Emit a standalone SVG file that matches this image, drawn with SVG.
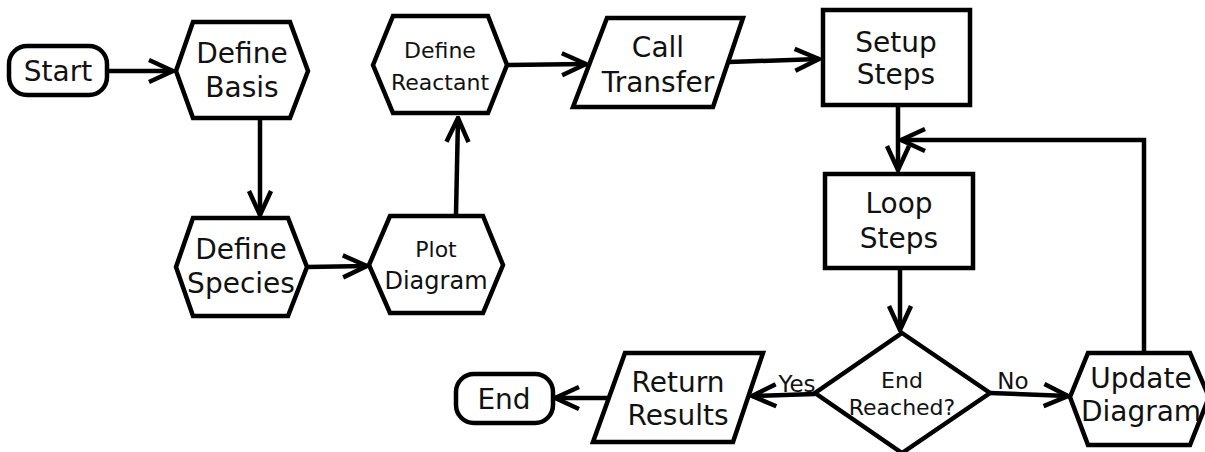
<svg xmlns="http://www.w3.org/2000/svg" width="1205" height="452" viewBox="0 0 1205 452">
<defs>
<marker id="ah" viewBox="-28 -14 30 28" markerWidth="30" markerHeight="28" refX="0" refY="0" orient="auto" markerUnits="userSpaceOnUse">
<path d="M-24,-11 L0,0 L-24,11" fill="none" stroke="#000" stroke-width="4.5"/>
</marker>
<style>
.n{fill:#fff;stroke:#000;stroke-width:4.5;stroke-linejoin:miter}
.c{fill:none;stroke:#000;stroke-width:4.5;marker-end:url(#ah)}
text{font-family:"DejaVu Sans","Liberation Sans",sans-serif;fill:#111;text-anchor:middle}
.b{font-size:28px}
.s{font-size:22px}
.m{font-size:24px}
.e{font-size:23px}
</style>
</defs>
<rect width="1205" height="452" fill="#fff"/>
<g id="connectors">
<line class="c" x1="108" y1="71" x2="173" y2="71"/>
<line class="c" x1="260" y1="119" x2="260" y2="215"/>
<line class="c" x1="307" y1="267" x2="367" y2="266"/>
<line class="c" x1="456" y1="214" x2="458" y2="118"/>
<line class="c" x1="507" y1="65" x2="586" y2="64"/>
<line class="c" x1="729" y1="62" x2="819" y2="59"/>
<line class="c" x1="898" y1="106" x2="898" y2="170"/>
<polyline class="c" points="1144,353 1144,140 901,140"/>
<line class="c" x1="900" y1="269" x2="900" y2="330"/>
<line class="c" x1="990" y1="393" x2="1068" y2="396"/>
<line class="c" x1="815" y1="394" x2="752" y2="396"/>
<line class="c" x1="608" y1="398" x2="555" y2="398"/>
<text class="e" x="797" y="392">Yes</text>
<text class="e" x="1013" y="389">No</text>
</g>
<g id="start">
<rect class="n" x="9" y="46" width="98" height="49" rx="18"/>
<text class="b" x="58" y="81">Start</text>
</g>
<g id="define-basis">
<polygon class="n" points="176,71 193,22 290,22 308,71 290,118 193,118"/>
<text class="b" x="242" y="63">Define</text>
<text class="b" x="242" y="97">Basis</text>
</g>
<g id="define-species">
<polygon class="n" points="176,267 193,218 288,218 307,267 288,316 193,316"/>
<text class="b" x="241" y="259">Define</text>
<text class="b" x="241" y="293">Species</text>
</g>
<g id="plot-diagram">
<polygon class="n" points="369,265 390,216 483,216 503,265 483,313 390,313"/>
<text class="s" x="436" y="257">Plot</text>
<text class="m" x="436" y="289">Diagram</text>
</g>
<g id="define-reactant">
<polygon class="n" points="373,65 393,16 488,16 507,65 488,113 393,113"/>
<text class="s" x="440" y="58">Define</text>
<text class="s" x="440" y="90">Reactant</text>
</g>
<g id="call-transfer">
<polygon class="n" points="607,18 743,18 713,107 573,107"/>
<text class="b" x="658" y="57">Call</text>
<text class="b" x="658" y="92">Transfer</text>
</g>
<g id="setup-steps">
<rect class="n" x="823" y="10" width="147" height="95"/>
<text class="b" x="896" y="52">Setup</text>
<text class="b" x="896" y="84">Steps</text>
</g>
<g id="loop-steps">
<rect class="n" x="825" y="174" width="148" height="94"/>
<text class="b" x="899" y="213">Loop</text>
<text class="b" x="899" y="248">Steps</text>
</g>
<g id="end-reached">
<polygon class="n" points="902,333 990,393 902,453 815,393"/>
<text class="s" x="902" y="388">End</text>
<text class="s" x="902" y="415">Reached?</text>
</g>
<g id="update-diagram">
<polygon class="n" points="1070,397 1088,353 1190,353 1209,397 1190,445 1088,445"/>
<text class="b" x="1141" y="388">Update</text>
<text class="b" x="1141" y="421">Diagram</text>
</g>
<g id="return-results">
<polygon class="n" points="625,353 763,353 733,442 593,442"/>
<text class="b" x="678" y="392">Return</text>
<text class="b" x="678" y="425">Results</text>
</g>
<g id="end">
<rect class="n" x="456" y="374" width="97" height="49" rx="18"/>
<text class="b" x="504" y="409">End</text>
</g>
</svg>
